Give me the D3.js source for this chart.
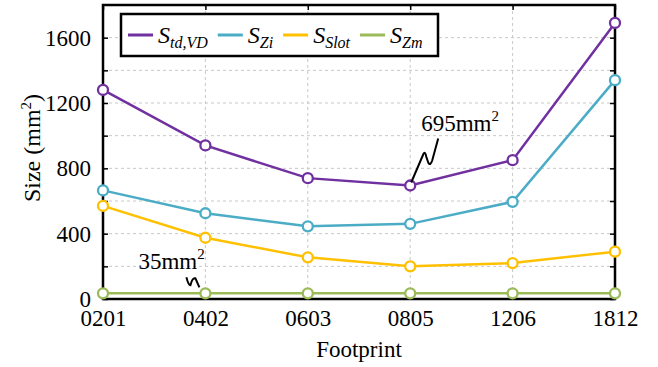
<!DOCTYPE html>
<html>
<head>
<meta charset="utf-8">
<script src="https://cdn.jsdelivr.net/npm/d3@7"></script>
<style>
  body { margin: 0; background: #fff; }
  svg { font-family: "Liberation Serif", "Times New Roman", serif; }
</style>
</head>
<body>
<svg id="chart" width="658" height="367"></svg>
<script>
// data
let footprints = ["0201", "0402", "0603", "0805", "1206", "1812"];
let sTdVd = [1280, 940, 740, 695, 850, 1690];
let sZi = [665, 525, 445, 460, 595, 1340];
let sSlot = [570, 375, 255, 200, 220, 290];
let sZm = [35, 35, 35, 35, 35, 35];
let yTicks = [0, 200, 400, 600, 800, 1000, 1200, 1400, 1600];
let yLabels = [0, 400, 800, 1200, 1600];

let series = [
  { name: "S", sub: "td,VD", values: sTdVd, color: "#7030a0" },
  { name: "S", sub: "Zi", values: sZi, color: "#4bacc6" },
  { name: "S", sub: "Slot", values: sSlot, color: "#ffc000" },
  { name: "S", sub: "Zm", values: sZm, color: "#9bbb59" }
];

let svg = d3.select("#chart");
let margin = { top: 5, right: 43, bottom: 68, left: 103 };
let width = 658 - margin.left - margin.right;
let height = 367 - margin.top - margin.bottom;

let g = svg.append("g").attr("transform", `translate(${margin.left},${margin.top})`);

let x = d3.scalePoint().domain(footprints).range([0, width]);
let y = d3.scaleLinear().domain([0, 1800]).range([height, 0]);

// dashed grid
g.append("g").selectAll("line.h")
  .data(yTicks.slice(1))
  .enter().append("line")
  .attr("x1", 0).attr("x2", width)
  .attr("y1", d => y(d)).attr("y2", d => y(d))
  .style("stroke", "#c8c8c8").style("stroke-dasharray", "3,3");
g.append("g").selectAll("line.v")
  .data(footprints.slice(1, -1))
  .enter().append("line")
  .attr("x1", d => x(d)).attr("x2", d => x(d))
  .attr("y1", 0).attr("y2", height)
  .style("stroke", "#c8c8c8").style("stroke-dasharray", "3,3");

// axes with inward ticks
let fmt = d => yLabels.includes(d) ? d : "";
g.append("g")
  .call(d3.axisLeft(y).tickValues(yTicks).tickSize(-5).tickPadding(12).tickFormat(fmt));
g.append("g").attr("transform", `translate(${width},0)`)
  .call(d3.axisRight(y).tickValues(yTicks).tickSize(-5).tickFormat(""));
g.append("g").attr("transform", `translate(0,${height})`)
  .call(d3.axisBottom(x).tickSize(-5).tickPadding(11));
g.append("g")
  .call(d3.axisTop(x).tickSize(-5).tickFormat(""));
g.selectAll(".domain").remove();
g.selectAll(".tick line").style("stroke", "#000").style("stroke-width", 1.5);
g.selectAll(".tick text").style("font-family", "Liberation Serif").style("font-size", "23px").style("fill", "#000");

// frame
g.append("rect")
  .attr("width", width).attr("height", height)
  .style("fill", "none").style("stroke", "#000").style("stroke-width", 2.5);

// lines and markers
let line = d3.line().x((d, i) => x(footprints[i])).y(d => y(d));
series.forEach(function(s) {
  g.append("path")
    .datum(s.values)
    .attr("d", line)
    .style("fill", "none").style("stroke", s.color).style("stroke-width", 2.5);
  g.append("g").selectAll("circle")
    .data(s.values)
    .enter().append("circle")
    .attr("cx", (d, i) => x(footprints[i]))
    .attr("cy", d => y(d))
    .attr("r", 5)
    .style("fill", "#fff").style("stroke", s.color).style("stroke-width", 2.3);
});

// annotations
let px = x("0805"), py = y(695);
g.append("path")
  .attr("d", `M${px + 1},${py - 3} L${px + 13},${py - 31} Q${px + 15},${py - 35} ${px + 16},${py - 29} L${px + 18},${py - 23} Q${px + 20},${py - 19} ${px + 22},${py - 25} L${px + 28},${py - 47}`)
  .style("fill", "none").style("stroke", "#000").style("stroke-width", 2);
let t1 = g.append("text").attr("x", px + 11).attr("y", py - 54).style("font-size", "23px");
t1.append("tspan").text("695mm");
t1.append("tspan").attr("dy", -10).style("font-size", "15px").text("2");

let qx = x("0402"), qy = y(35);
g.append("path")
  .attr("d", `M${qx - 19},${qy - 16} Q${qx - 17},${qy - 8} ${qx - 15},${qy - 8} Q${qx - 13},${qy - 16} ${qx - 10},${qy - 15} L${qx - 6},${qy - 6}`)
  .style("fill", "none").style("stroke", "#000").style("stroke-width", 2);
let t2 = g.append("text").attr("x", qx - 67).attr("y", qy - 24).style("font-size", "23px");
t2.append("tspan").text("35mm");
t2.append("tspan").attr("dy", -10).style("font-size", "15px").text("2");

// axis titles
svg.append("text")
  .attr("x", margin.left + width / 2).attr("y", 357)
  .attr("text-anchor", "middle").style("font-size", "23px")
  .text("Footprint");
let yt = svg.append("text")
  .attr("transform", `translate(40,${margin.top + height / 2 - 4}) rotate(-90)`)
  .attr("text-anchor", "middle").style("font-size", "24px");
yt.append("tspan").text("Size (mm");
yt.append("tspan").attr("dy", -9).style("font-size", "15px").text("2");
yt.append("tspan").attr("dy", 9).text(")");

// legend
let leg = svg.append("g");
leg.append("rect")
  .attr("x", 121).attr("y", 14).attr("width", 317).attr("height", 42)
  .style("fill", "#fff").style("stroke", "#000").style("stroke-width", 2.5);
let lx = 128;
series.forEach(function(s) {
  leg.append("line")
    .attr("x1", lx).attr("x2", lx + 25).attr("y1", 35).attr("y2", 35)
    .style("stroke", s.color).style("stroke-width", 3);
  let t = leg.append("text")
    .attr("x", lx + 30).attr("y", 43)
    .style("font-style", "italic").style("font-size", "24px");
  t.append("tspan").text(s.name);
  t.append("tspan").attr("dy", 5).style("font-size", "16px").text(s.sub);
  lx = lx + 29 + t.node().getComputedTextLength() + 11;
});
</script>
</body>
</html>
